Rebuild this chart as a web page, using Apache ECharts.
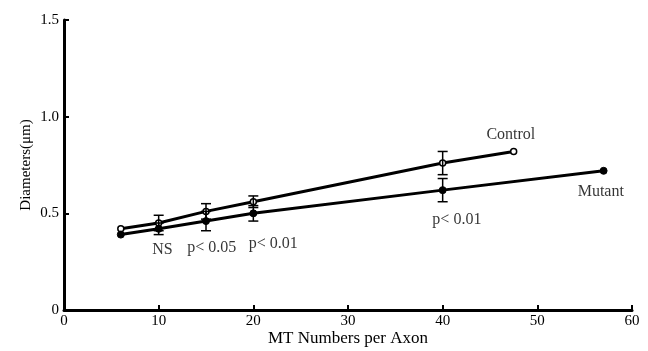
<!DOCTYPE html>
<html><head><meta charset="utf-8">
<script src="https://cdn.jsdelivr.net/npm/echarts@6/dist/echarts.min.js"></script>
<style>html,body{margin:0;padding:0;background:#fff}#c{width:648px;height:351px}</style>
</head><body><div id="c"></div>
<script>
var controlX = [6, 10, 15, 20, 40, 47.5];
var controlY = [0.42, 0.45, 0.51, 0.56, 0.76, 0.82];
var controlErr = [0, 0.04, 0.04, 0.03, 0.06, 0];
var mutantX = [6, 10, 15, 20, 40, 57];
var mutantY = [0.39, 0.42, 0.46, 0.50, 0.62, 0.72];
var mutantErr = [0, 0.03, 0.05, 0.04, 0.06, 0];
var xTicks = [0, 10, 20, 30, 40, 50, 60];
var yTicks = ['0', '0.5', '1.0', '1.5'];
var annotations = [
  {x: 47.2, y: 0.905, text: 'Control'},
  {x: 56.7, y: 0.61, text: 'Mutant'},
  {x: 10.4, y: 0.31, text: 'NS'},
  {x: 15.6, y: 0.32, text: 'p< 0.05'},
  {x: 22.1, y: 0.345, text: 'p< 0.01'},
  {x: 41.5, y: 0.465, text: 'p< 0.01'}
];

function pairs(xs, ys){ return xs.map(function(x,i){return [x, ys[i]];}); }
function errData(xs, ys, es){
  var out=[]; xs.forEach(function(x,i){ if(es[i]>0) out.push([x, ys[i]-es[i], ys[i]+es[i]]); }); return out;
}
function errRender(params, api){
  var x = api.value(0), lo = api.value(1), hi = api.value(2);
  var pLo = api.coord([x, lo]), pHi = api.coord([x, hi]);
  var w = 5;
  var st = {stroke:'#000', lineWidth:1.5};
  return {type:'group', children:[
    {type:'line', shape:{x1:pLo[0],y1:pLo[1],x2:pHi[0],y2:pHi[1]}, style:st},
    {type:'line', shape:{x1:pLo[0]-w,y1:pLo[1],x2:pLo[0]+w,y2:pLo[1]}, style:st},
    {type:'line', shape:{x1:pHi[0]-w,y1:pHi[1],x2:pHi[0]+w,y2:pHi[1]}, style:st}
  ]};
}
var font = 'Liberation Serif';
var chart = echarts.init(document.getElementById('c'), null, {renderer:'canvas'});
chart.setOption({
  animation:false,
  grid:{left:64, right:16, top:20, bottom:41, containLabel:false, outerBoundsMode:'none'},
  xAxis:{type:'value', min:0, max:60, interval:10,
    name:'MT Numbers per Axon', nameLocation:'middle', nameGap:20, nameMoveOverlap:false,
    nameTextStyle:{fontFamily:font, fontSize:17, color:'#000'},
    axisLine:{lineStyle:{color:'#000', width:3}},
    axisTick:{inside:true, length:5, lineStyle:{color:'#000', width:2}},
    axisLabel:{fontFamily:font, fontSize:15, color:'#000', margin:4,
      formatter:function(v){ return xTicks.indexOf(v)>=0 ? String(v) : ''; }},
    splitLine:{show:false}},
  yAxis:{type:'value', min:0, max:1.5, interval:0.5,
    name:'Diameters(μm)', nameLocation:'middle', nameGap:30, nameRotate:90, nameMoveOverlap:false,
    nameTextStyle:{fontFamily:font, fontSize:15, color:'#000'},
    axisLine:{lineStyle:{color:'#000', width:3}},
    axisTick:{inside:true, length:5, lineStyle:{color:'#000', width:2}},
    axisLabel:{fontFamily:font, fontSize:15, color:'#000', margin:5,
      formatter:function(v){ return yTicks[Math.round(v/0.5)]; }},
    splitLine:{show:false}},
  series:[
    {type:'line', data:pairs(controlX, controlY), symbol:'circle', symbolSize:6,
      lineStyle:{color:'#000', width:3}, itemStyle:{color:'#fff', borderColor:'#000', borderWidth:1.5}, z:3},
    {type:'line', data:pairs(mutantX, mutantY), symbol:'circle', symbolSize:7,
      lineStyle:{color:'#000', width:3}, itemStyle:{color:'#000', borderColor:'#000'}, z:3},
    {type:'custom', data:errData(controlX, controlY, controlErr), renderItem:errRender, z:4},
    {type:'custom', data:errData(mutantX, mutantY, mutantErr), renderItem:errRender, z:4},
    {type:'scatter', symbolSize:0, data:annotations.map(function(a){return {value:[a.x,a.y], name:a.text};}),
      label:{show:true, position:'inside', formatter:function(p){return p.name;},
        fontFamily:font, fontSize:16, color:'#000'}, z:5}
  ]
});
</script></body></html>
